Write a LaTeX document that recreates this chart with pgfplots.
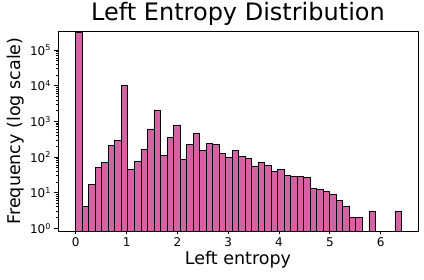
\documentclass[border=0pt]{standalone}
\usepackage{fontspec}
\setmainfont{DejaVu Sans}
\usepackage{pgfplots}
\pgfplotsset{compat=1.18}
\definecolor{barpink}{RGB}{212,98,164}
\begin{document}
\begin{tikzpicture}
\begin{axis}[
  name=ax,
  at={(0pt,0pt)}, anchor=south west,
  scale only axis, width=360pt, height=200pt,
  ymode=log, log origin y=infty,
  xmin=-0.35, xmax=6.735,
  ymin=0.84, ymax=343000,
  xtick={0,1,2,3,4,5,6},
  ytick={1,10,100,1000,10000,100000},
  yticklabels={10\textsuperscript{0},10\textsuperscript{1},10\textsuperscript{2},10\textsuperscript{3},10\textsuperscript{4},10\textsuperscript{5}},
  /pgf/number format/assume math mode=true,
  tick label style={font=\fontsize{12}{14}\selectfont},
  tick align=outside, tick pos=left,
  major tick length=3.5pt, minor tick length=2pt,
  title={Left Entropy Distribution},
  title style={font=\fontsize{24}{28}\selectfont, yshift=-4pt},
  xlabel={Left entropy}, ylabel={Frequency (log scale)},
  label style={font=\fontsize{17.5}{21}\selectfont},
  xlabel style={yshift=3pt},
  ylabel style={yshift=-1pt},
  axis line style={line width=0.8pt},
  every tick/.style={black, line width=0.8pt},
]
\addplot[ybar, bar width=0.1282, bar shift=0pt, fill=barpink, draw=black, line width=0.8pt]
coordinates {
(0.0641,307000) (0.1923,4) (0.3205,17) (0.4487,52) (0.5769,72)
(0.7051,217) (0.8333,300) (0.9615,9900) (1.0897,46) (1.2179,77)
(1.3461,167) (1.4743,611) (1.6025,2094) (1.7307,113) (1.8589,364)
(1.9871,792) (2.1153,87) (2.2435,231) (2.3717,472) (2.4999,157)
(2.6281,247) (2.7563,231) (2.8845,129) (3.0127,100) (3.1409,157)
(3.2691,106) (3.3973,93) (3.5255,56) (3.6537,72) (3.7819,59)
(3.9101,40) (4.0383,46) (4.1665,31) (4.2947,29) (4.4229,29)
(4.5511,27) (4.6793,13) (4.8075,12) (4.9357,11) (5.0639,9)
(5.1921,6) (5.3203,4) (5.4485,2) (5.5767,2)
(5.8331,3) (6.3459,3)
};
\end{axis}
\pgfresetboundingbox
\path (-58pt,-49pt) rectangle (366pt,231pt);
\end{tikzpicture}
\end{document}
